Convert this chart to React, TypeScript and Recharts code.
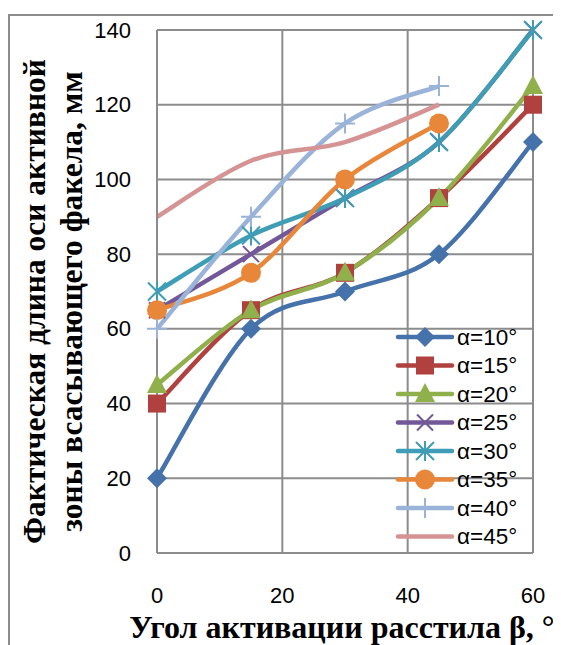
import React from "react";
import { LineChart, Line, XAxis, YAxis, CartesianGrid, Legend } from "recharts";

const BETA = [0, 15, 30, 45, 60];
const A10 = [20, 60, 70, 80, 110];
const A15 = [40, 65, 75, 95, 120];
const A20 = [45, 65, 75, 95, 125];
const A25 = [65, 80, 95, 110, 140];
const A30 = [70, 85, 95, 110, 140];
const A35 = [65, 75, 100, 115, null];
const A40 = [60, 90, 115, 125, null];
const A45 = [90, 105, 110, 120, null];
const X_TICKS = [0, 20, 40, 60];
const Y_TICKS = [0, 20, 40, 60, 80, 100, 120, 140];
const Y_TITLE = ["Фактическая длина оси активной", "зоны всасывающего факела, мм"];
const X_TITLE = "Угол активации расстила β, °";

type MarkerKind = "diamond" | "square" | "triangle" | "x" | "star" | "circle" | "plus" | "none";

const SERIES: { key: string; name: string; values: (number | null)[]; color: string; marker: MarkerKind }[] = [
  { key: "a10", name: "α=10°", values: A10, color: "#4672AB", marker: "diamond" },
  { key: "a15", name: "α=15°", values: A15, color: "#B0413E", marker: "square" },
  { key: "a20", name: "α=20°", values: A20, color: "#8FB04A", marker: "triangle" },
  { key: "a25", name: "α=25°", values: A25, color: "#735899", marker: "x" },
  { key: "a30", name: "α=30°", values: A30, color: "#3F9DB6", marker: "star" },
  { key: "a35", name: "α=35°", values: A35, color: "#E8873A", marker: "circle" },
  { key: "a40", name: "α=40°", values: A40, color: "#9AB3D9", marker: "plus" },
  { key: "a45", name: "α=45°", values: A45, color: "#D69393", marker: "none" },
];

const DATA = BETA.map((b, i) => {
  const row: Record<string, number | null> = { beta: b };
  SERIES.forEach((s) => {
    row[s.key] = s.values[i];
  });
  return row;
});

// Excel-like smoothed line (Catmull-Rom)
const smoothCurve: any = (context: any) => {
  let pts: [number, number][] = [];
  return {
    areaStart() {},
    areaEnd() {},
    lineStart() {
      pts = [];
    },
    point(x: number, y: number) {
      pts.push([+x, +y]);
    },
    lineEnd() {
      if (!pts.length) return;
      context.moveTo(pts[0][0], pts[0][1]);
      for (let i = 0; i < pts.length - 1; i++) {
        const p0 = pts[i - 1] || pts[i];
        const p1 = pts[i];
        const p2 = pts[i + 1];
        const p3 = pts[i + 2] || p2;
        const c1x = p1[0] + (p2[0] - p0[0]) / 6;
        const c1y = p1[1] + (p2[1] - p0[1]) / 6;
        const c2x = p2[0] - (p3[0] - p1[0]) / 6;
        const c2y = p2[1] - (p3[1] - p1[1]) / 6;
        context.bezierCurveTo(c1x, c1y, c2x, c2y, p2[0], p2[1]);
      }
    },
  };
};

function drawMarker(kind: MarkerKind, cx: number, cy: number, color: string, key?: any) {
  switch (kind) {
    case "diamond":
      return <path key={key} d={`M${cx},${cy - 10}L${cx + 10},${cy}L${cx},${cy + 10}L${cx - 10},${cy}Z`} fill={color} />;
    case "square":
      return <rect key={key} x={cx - 9} y={cy - 9} width={18} height={18} fill={color} />;
    case "triangle":
      return <path key={key} d={`M${cx},${cy - 11}L${cx + 10},${cy + 8}L${cx - 10},${cy + 8}Z`} fill={color} />;
    case "x":
      return (
        <path key={key} d={`M${cx - 8},${cy - 8}L${cx + 8},${cy + 8}M${cx - 8},${cy + 8}L${cx + 8},${cy - 8}`} stroke={color} strokeWidth={2} />
      );
    case "star":
      return (
        <path
          key={key}
          d={`M${cx - 9},${cy - 9}L${cx + 9},${cy + 9}M${cx - 9},${cy + 9}L${cx + 9},${cy - 9}M${cx},${cy - 10}L${cx},${cy + 10}`}
          stroke={color}
          strokeWidth={2}
        />
      );
    case "circle":
      return <circle key={key} cx={cx} cy={cy} r={10} fill={color} />;
    case "plus":
      return (
        <path key={key} d={`M${cx - 10},${cy}L${cx + 10},${cy}M${cx},${cy - 10}L${cx},${cy + 10}`} stroke={color} strokeWidth={2} />
      );
    default:
      return <g key={key} />;
  }
}

const makeDot = (kind: MarkerKind, color: string) => (props: any) => {
  const { cx, cy, key, index } = props;
  if (cx == null || cy == null || props.value == null) return <g key={key ?? index} />;
  return drawMarker(kind, cx, cy, color, key ?? index);
};

const GRID = "#8C8C8C";
const TICK_FONT = "'Liberation Sans', Arial, sans-serif";
const TITLE_FONT = "'Liberation Serif', 'Times New Roman', serif";

const XTick = (props: any) => {
  const { x, y, payload } = props;
  return (
    <text x={x} y={y + 42} textAnchor="middle" dominantBaseline="central" fontFamily={TICK_FONT} fontSize={22} fill="#000">
      {payload.value}
    </text>
  );
};

const YTick = (props: any) => {
  const { x, y, payload } = props;
  return (
    <text x={x - 26} y={y} textAnchor="end" dominantBaseline="central" fontFamily={TICK_FONT} fontSize={22} fill="#000">
      {payload.value}
    </text>
  );
};

const YTitle = (props: any) => {
  const vb = props.viewBox || {};
  const cy = vb.y + vb.height / 2 + 10;
  const x1 = vb.x + 37;
  const x2 = vb.x + 74;
  return (
    <g>
      <text
        x={x1}
        y={cy}
        transform={`rotate(-90 ${x1} ${cy})`}
        textAnchor="middle"
        fontFamily={TITLE_FONT}
        fontWeight="bold"
        fontSize={31.5}
        fill="#000"
      >
        {Y_TITLE[0]}
      </text>
      <text
        x={x2}
        y={cy}
        transform={`rotate(-90 ${x2} ${cy})`}
        textAnchor="middle"
        fontFamily={TITLE_FONT}
        fontWeight="bold"
        fontSize={31.5}
        fill="#000"
      >
        {Y_TITLE[1]}
      </text>
    </g>
  );
};

const XTitle = (props: any) => {
  const vb = props.viewBox || {};
  return (
    <text
      x={vb.x + vb.width / 2 - 3}
      y={vb.y + 85}
      textAnchor="middle"
      fontFamily={TITLE_FONT}
      fontWeight="bold"
      fontSize={32}
      fill="#000"
    >
      {X_TITLE}
    </text>
  );
};

const LegendContent = () => {
  const rowH = 28.5;
  return (
    <svg width={150} height={235} style={{ display: "block", overflow: "visible" }}>
      {SERIES.map((s, i) => {
        const cy = 15 + i * rowH;
        return (
          <g key={s.key}>
            <line x1={2} x2={56} y1={cy} y2={cy} stroke={s.color} strokeWidth={4.5} strokeLinecap="round" />
            {drawMarker(s.marker, 29, cy, s.color)}
            <text x={61} y={cy} dominantBaseline="central" fontFamily={TICK_FONT} fontSize={22.5} fill="#000">
              {s.name}
            </text>
          </g>
        );
      })}
    </svg>
  );
};

export default function App() {
  return (
    <div style={{ position: "relative", width: 553, height: 637, overflow: "hidden", background: "#fff" }}>
      <div
        style={{
          position: "absolute",
          left: 0,
          top: 6,
          width: 700,
          height: 800,
          borderLeft: `2px solid ${GRID}`,
          borderTop: `2px solid ${GRID}`,
          boxSizing: "border-box",
        }}
      />
      <div style={{ position: "absolute", left: 0, top: 0 }}>
        <LineChart width={553} height={637} data={DATA} margin={{ top: 22, right: 28, left: 0, bottom: 0 }}>
          <CartesianGrid stroke={GRID} strokeWidth={2} vertical={true} horizontal={true} />
          <XAxis
            dataKey="beta"
            type="number"
            domain={[0, 60]}
            ticks={X_TICKS}
            height={92}
            tickLine={false}
            tickSize={0}
            tickMargin={0}
            axisLine={{ stroke: GRID, strokeWidth: 2 }}
            tick={<XTick />}
            interval={0}
            label={{ content: <XTitle /> } as any}
          />
          <YAxis
            type="number"
            domain={[0, 140]}
            ticks={Y_TICKS}
            width={149}
            tickLine={false}
            tickSize={0}
            tickMargin={0}
            axisLine={{ stroke: GRID, strokeWidth: 2 }}
            tick={<YTick />}
            interval={0}
            label={{ content: <YTitle /> } as any}
          />
          <Legend
            layout="vertical"
            align="center"
            verticalAlign="middle"
            content={<LegendContent />}
            wrapperStyle={{ left: 388, top: 314, width: 150, height: 235 }}
          />
          {SERIES.map((s) => (
            <Line
              key={s.key}
              dataKey={s.key}
              name={s.name}
              type={smoothCurve}
              stroke={s.color}
              strokeWidth={4.5}
              dot={makeDot(s.marker, s.color)}
              activeDot={false}
              isAnimationActive={false}
              legendType="line"
            />
          ))}
        </LineChart>
      </div>
    </div>
  );
}
